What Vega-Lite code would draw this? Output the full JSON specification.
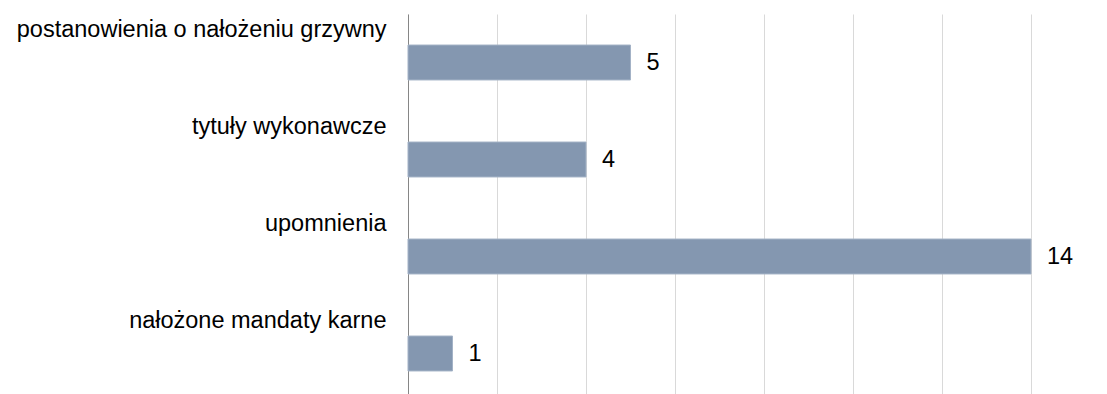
{
  "$schema": "https://vega.github.io/schema/vega-lite/v6.json",
  "autosize": {"type": "none"},
  "padding": {"left": 408, "top": 14, "right": 76, "bottom": 0},
  "width": 623,
  "height": 388,
  "background": "white",
  "data": {"values": [
    {"kategoria": "postanowienia o nałożeniu grzywny", "liczba": 5},
    {"kategoria": "tytuły wykonawcze", "liczba": 4},
    {"kategoria": "upomnienia", "liczba": 14},
    {"kategoria": "nałożone mandaty karne", "liczba": 1}
  ]},
  "config": {
    "view": {"stroke": null},
    "font": "Liberation Sans"
  },
  "encoding": {
    "y": {
      "field": "kategoria", "type": "nominal", "sort": null,
      "scale": {"paddingInner": 0.64, "paddingOuter": 0.32},
      "axis": {
        "title": null, "ticks": false, "grid": false,
        "domainColor": "#868686", "domainWidth": 1,
        "labelFont": "Liberation Sans", "labelFontSize": 23.5, "labelColor": "#000000",
        "labelPadding": 22, "labelOffset": -33, "labelLimit": 500
      }
    },
    "x": {
      "field": "liczba", "type": "quantitative",
      "scale": {"domain": [0, 14], "nice": false},
      "axis": {
        "title": null, "labels": false, "ticks": false, "domain": false,
        "values": [0, 2, 4, 6, 8, 10, 12, 14],
        "grid": true, "gridColor": "#d9d9d9", "gridWidth": 1
      }
    }
  },
  "layer": [
    {"mark": {"type": "bar", "color": "#8497b0", "stroke": "#a3b2c6", "strokeWidth": 1}},
    {"mark": {"type": "text", "align": "left", "baseline": "middle", "dx": 16, "fontSize": 23.5, "font": "Liberation Sans", "color": "#000000"},
     "encoding": {"text": {"field": "liczba", "type": "quantitative"}}}
  ]
}
